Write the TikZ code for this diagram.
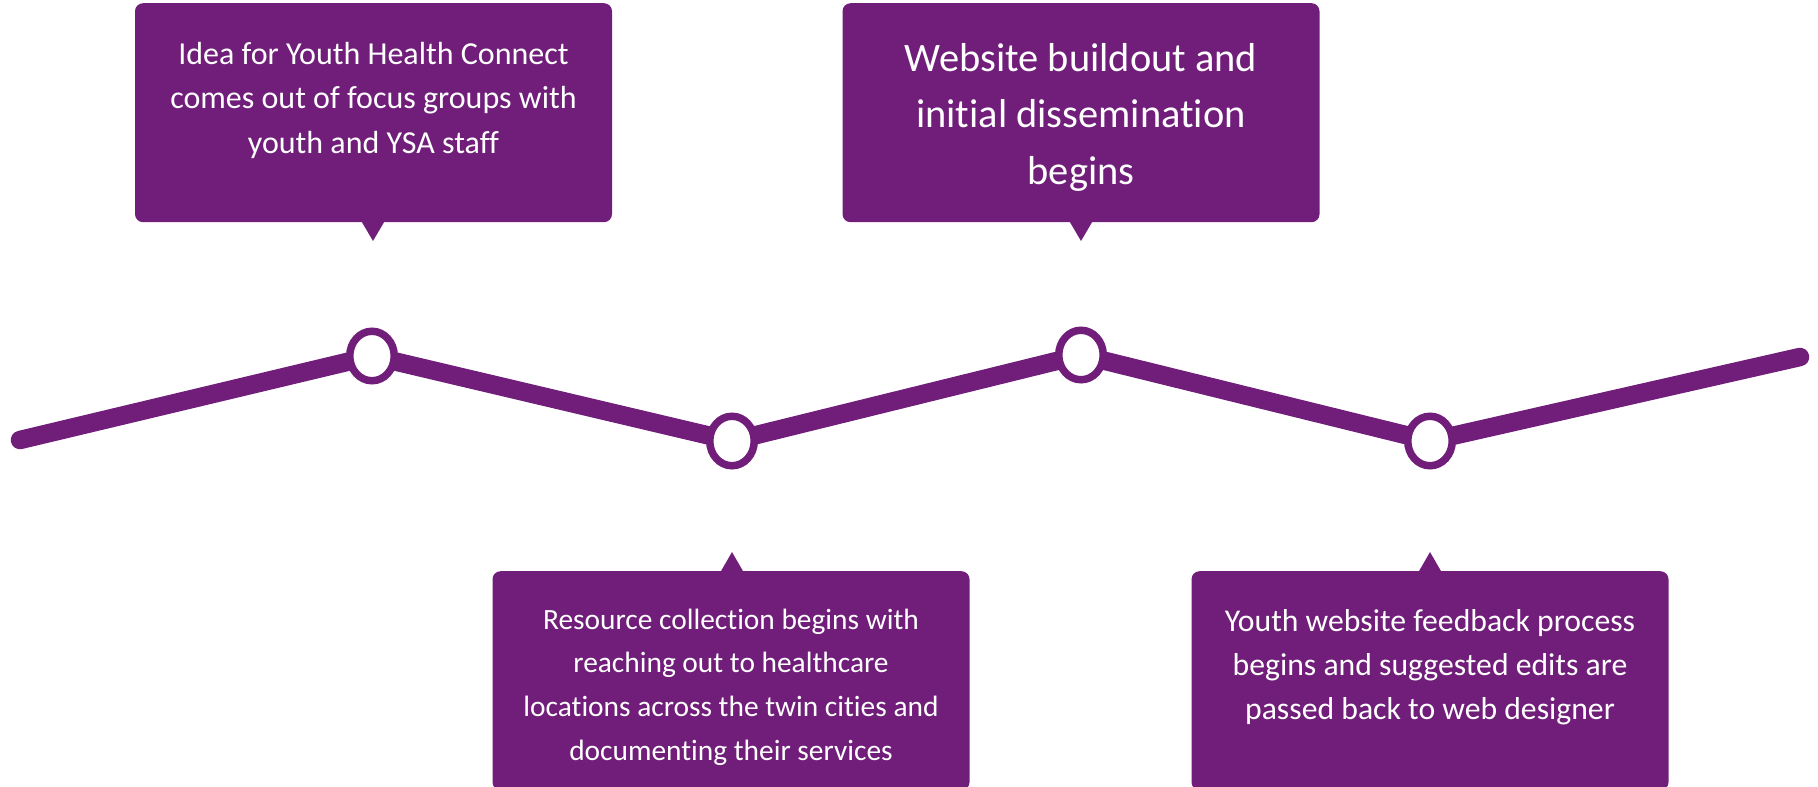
\documentclass[tikz,border=0pt]{standalone}
\usepackage{fontspec}
\setmainfont{Carlito}[Ligatures={NoCommon}]
\usetikzlibrary{shapes.geometric,backgrounds}
\definecolor{ypurple}{RGB}{112,30,122}
\tikzset{
  callbox/.style={rectangle, rounded corners=8pt, fill=ypurple, draw=none,
    minimum width=477pt, minimum height=219pt, inner sep=0pt},
  milestone/.style={ellipse, draw=ypurple, fill=white, line width=7.5pt,
    minimum width=44.5pt, minimum height=49.5pt, inner sep=0pt},
  timeline/.style={draw=ypurple, line width=18.5pt, line cap=round, line join=round},
  boxtext/.style={anchor=base, inner sep=0pt, text=white},
}
\begin{document}
\begin{tikzpicture}[x=1pt,y=-1pt]
\useasboundingbox (0,0) rectangle (1818,787);
% callout boxes
\node[callbox, anchor=north] (box1) at (373.5,3) {};
\node[callbox, anchor=north] (box2) at (1081,3) {};
\node[callbox, anchor=north] (box3) at (731,571) {};
\node[callbox, anchor=north] (box4) at (1430,571) {};
% pointer tips
\coordinate (tip1) at (373,241);
\coordinate (tip2) at (1081,241);
\coordinate (tip3) at (732,552);
\coordinate (tip4) at (1430,552);
\fill[ypurple] ([xshift=-11.5pt,yshift=1pt]box1.south -| tip1) -- (tip1) -- ([xshift=11.5pt,yshift=1pt]box1.south -| tip1) -- cycle;
\fill[ypurple] ([xshift=-11.5pt,yshift=1pt]box2.south -| tip2) -- (tip2) -- ([xshift=11.5pt,yshift=1pt]box2.south -| tip2) -- cycle;
\fill[ypurple] ([xshift=-11.5pt,yshift=-1pt]box3.north -| tip3) -- (tip3) -- ([xshift=11.5pt,yshift=-1pt]box3.north -| tip3) -- cycle;
\fill[ypurple] ([xshift=-11.5pt,yshift=-1pt]box4.north -| tip4) -- (tip4) -- ([xshift=11.5pt,yshift=-1pt]box4.north -| tip4) -- cycle;
% texts
\node[boxtext] (t1) at (373.5,64) {\parbox[t]{470pt}{\centering\fontsize{32}{44.8}\selectfont
  Idea for Youth Health Connect\\comes out of focus groups with\\youth and YSA staff}};
\node[boxtext] (t2) at (1081,71) {\parbox[t]{470pt}{\centering\fontsize{40.4}{56.8}\selectfont
  Website buildout and\\initial dissemination\\begins}};
\node[boxtext] (t3) at (731,629) {\parbox[t]{470pt}{\centering\fontsize{29.4}{43.7}\selectfont
  Resource collection begins with\\reaching out to healthcare\\locations across the twin cities and\\documenting their services}};
\node[boxtext] (t4) at (1430,631) {\parbox[t]{470pt}{\centering\fontsize{31.7}{44}\selectfont
  Youth website feedback process\\begins and suggested edits are\\passed back to web designer}};
% timeline
\coordinate (start) at (20,440);
\coordinate (end) at (1800,357);
\node[milestone] (c1) at (372,356) {};
\node[milestone] (c2) at (732,441) {};
\node[milestone] (c3) at (1081,355) {};
\node[milestone] (c4) at (1430,441) {};
\begin{pgfonlayer}{background}
\draw[timeline] (start) -- (c1.center) -- (c2.center) -- (c3.center) -- (c4.center) -- (end);
\end{pgfonlayer}
\end{tikzpicture}
\end{document}
